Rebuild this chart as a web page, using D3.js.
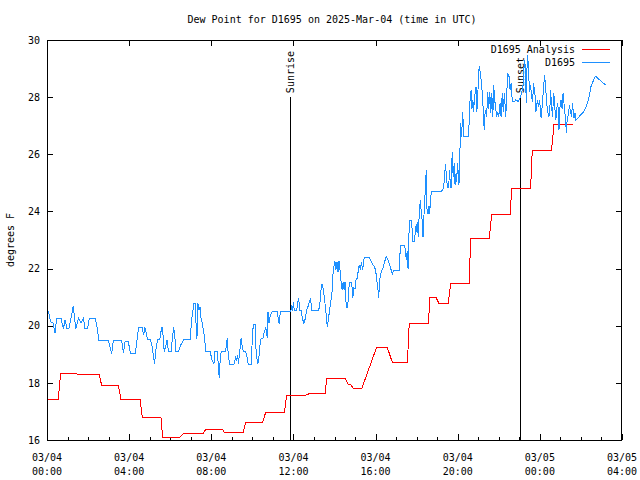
<!DOCTYPE html>
<html><head><meta charset="utf-8">
<script src="https://cdn.jsdelivr.net/npm/d3@7"></script>
<style>
body{margin:0;background:#fff}
text{font-family:"DejaVu Sans Mono",monospace;font-size:10px;fill:#000}
</style>
</head><body><svg id="c" width="640" height="480"></svg>
<script>
const title = "Dew Point for D1695 on 2025-Mar-04 (time in UTC)";
const yLabel = "degrees F";
const seriesNames = ["D1695 Analysis", "D1695"];
const seriesColors = ["#ff0000", "#1e90ff"];
const yTicks = [16, 18, 20, 22, 24, 26, 28, 30];
const xMajorHours = [0, 4, 8, 12, 16, 20, 24, 28];
const sunriseHour = 11.83, sunsetHour = 23.03;
const markerTop = 28;

// [hours since 2025-03-04 00:00 UTC, degrees F]
const analysis = [[0.06,17.43],[0.55,17.43],[0.66,18.33],[1.41,18.33],[1.57,18.28],[2.55,18.28],[2.66,17.91],[3.47,17.91],[3.6,17.43],[4.53,17.43],[4.64,16.8],[5.55,16.8],[5.63,16.1],[6.48,16.1],[6.64,16.23],[7.61,16.23],[7.73,16.37],[8.55,16.37],[8.63,16.27],[9.56,16.27],[9.67,16.62],[10.5,16.62],[10.65,16.97],[11.56,16.97],[11.67,17.56],[12.56,17.56],[12.81,17.63],[13.54,17.63],[13.62,18.16],[14.51,18.16],[14.67,17.93],[14.8,17.93],[14.92,17.79],[15.32,17.79],[16.05,19.24],[16.57,19.24],[16.82,18.71],[17.55,18.71],[17.64,20.08],[18.57,20.08],[18.65,20.99],[18.94,20.99],[19.09,20.78],[19.54,20.78],[19.66,21.48],[20.56,21.48],[20.63,23.06],[21.54,23.06],[21.65,23.88],[22.55,23.88],[22.63,24.81],[23.55,24.81],[23.63,26.15],[24.57,26.15],[24.69,27.05],[25.63,27.05]];

const observed = [[0.06,20.53],[0.18,20.14],[0.29,20.1],[0.39,19.73],[0.47,20.26],[0.68,20.26],[0.8,19.9],[0.88,20.2],[0.97,19.9],[1.07,19.9],[1.17,20.26],[1.28,20.69],[1.4,19.9],[1.53,20.26],[1.66,20.1],[1.77,20.26],[1.85,19.9],[1.98,19.9],[2.06,20.26],[2.34,20.26],[2.42,20.03],[2.53,19.48],[2.99,19.48],[3.15,19.03],[3.23,19.48],[3.64,19.48],[3.72,19.03],[3.8,19.45],[3.96,19.45],
[4.06,19.03],[4.3,19.03],[4.38,19.47],[4.46,19.94],[4.63,19.94],[4.71,19.68],[4.76,19.94],[4.84,19.72],[4.9,19.52],[5.03,19.52],[5.11,19.32],[5.2,18.86],[5.23,18.65],[5.27,18.92],[5.32,19.27],[5.39,19.52],[5.49,19.52],[5.55,19.79],[5.6,19.94],[5.65,19.68],[5.71,19.09],[5.76,19.2],[5.84,19.5],[5.92,19.09],[6.04,19.09],[6.1,19.5],[6.17,19.94],[6.22,19.68],[6.28,19.09],[6.41,19.09],[6.49,19.3],[6.57,19.4],[6.66,19.52],[6.98,19.52],[7.03,20.14],[7.11,20.55],[7.14,20.78],[7.22,20.78],[7.27,19.85],[7.3,19.52],[7.35,20.78],[7.4,20.55],[7.46,20.66],[7.5,20.26],[7.56,20.1],[7.63,19.79],[7.68,19.5],[7.73,19.09],[7.87,19.09],[7.95,19.09],
[8.03,18.8],[8.13,18.66],[8.18,19.11],[8.3,19.11],[8.34,18.62],[8.39,18.16],[8.44,18.9],[8.49,19.11],[8.7,19.11],[8.78,19.56],[8.83,18.9],[8.9,18.66],[9.11,18.66],[9.19,18.9],[9.24,18.8],[9.29,18.97],[9.32,18.66],[9.39,19.11],[9.45,19.56],[9.5,19.32],[9.56,19.11],[9.67,19.11],[9.75,18.87],[9.8,18.66],[9.95,18.66],[10.0,19.62],[10.05,20.06],[10.13,20.06],[10.19,18.97],[10.27,18.66],[10.32,18.9],[10.37,19.32],[10.43,19.56],[10.52,19.56],[10.57,19.74],[10.65,19.94],[10.73,19.56],[10.76,20.49],[10.81,20.08],[10.88,20.37],[10.97,20.49],[11.21,20.49],[11.26,20.26],[11.31,20.06],[11.36,20.49],[11.87,20.49],
[11.92,20.72],[11.96,20.53],[12.0,20.84],[12.04,20.53],[12.16,20.53],[12.21,20.84],[12.26,20.96],[12.3,20.53],[12.37,20.53],[12.42,20.34],[12.47,20.17],[12.5,20.06],[12.57,20.23],[12.64,20.53],[12.71,20.67],[12.77,20.84],[12.82,20.93],[12.87,20.72],[12.89,20.53],[13.23,20.53],[13.3,20.84],[13.34,21.25],[13.39,21.46],[13.46,21.25],[13.51,20.96],[13.58,20.5],[13.62,20.2],[13.65,19.94],[13.7,20.2],[13.77,20.6],[13.83,20.9],[13.88,21.19],[13.93,21.83],[13.98,22.13],[14.02,22.27],[14.07,21.95],[14.12,22.24],[14.17,21.89],[14.22,22.27],[14.27,21.95],[14.32,21.54],[14.37,21.25],[14.42,21.54],[14.47,21.25],[14.51,21.54],[14.56,20.84],[14.61,20.61],[14.66,20.84],[14.72,21.5],[14.84,21.5],[14.89,20.96],[14.94,21.31],[15.0,21.28],[15.06,21.66],[15.11,21.66],[15.16,21.95],[15.21,22.13],[15.26,21.95],[15.31,22.24],[15.37,21.95],[15.42,22.24],[15.45,22.39],[15.7,22.39],[15.78,22.27],[15.86,22.15],[15.94,22.07],
[16.0,21.95],[16.04,21.72],[16.12,21.25],[16.15,20.96],[16.2,21.6],[16.28,21.89],[16.36,22.0],[16.44,22.24],[16.52,22.42],[16.6,22.3],[16.68,22.13],[16.76,21.95],[16.81,21.81],[16.88,21.95],[17.17,21.95],[17.2,22.8],[17.42,22.8],[17.47,22.5],[17.5,22.3],[17.54,22.6],[17.58,22.0],[17.63,23.29],[17.66,23.68],[17.74,23.68],[17.79,23.29],[17.82,22.94],[17.9,22.94],[17.95,23.49],[17.98,23.29],[18.03,23.64],[18.08,23.09],[18.13,23.99],[18.18,24.4],[18.23,23.9],[18.28,23.64],[18.31,23.1],[18.34,23.64],[18.39,24.3],[18.44,25.04],[18.47,25.45],[18.5,24.1],[18.55,23.9],[18.6,24.2],[18.63,23.9],[18.71,24.69],[19.2,24.69],[19.28,24.78],[19.33,24.98],[19.38,25.45],[19.41,25.66],[19.46,25.07],[19.51,24.83],[19.56,24.83],[19.6,25.45],[19.65,24.83],[19.69,24.83],[19.73,26.09],[19.78,25.2],[19.83,25.7],[19.87,24.93],[19.92,25.33],[19.95,25.04],[19.99,25.68],
[20.03,25.3],[20.06,24.93],[20.11,26.15],[20.14,27.08],[20.19,26.62],[20.24,27.49],[20.3,26.62],[20.52,26.62],[20.55,27.02],[20.6,27.9],[20.65,28.25],[20.69,27.6],[20.74,27.9],[20.77,27.49],[20.82,28.0],[20.89,28.37],[20.93,27.49],[20.98,27.9],[21.0,28.72],[21.05,29.07],[21.1,28.84],[21.16,28.48],[21.21,27.97],[21.26,27.32],[21.29,26.85],[21.34,27.55],[21.41,27.32],[21.46,28.19],[21.51,27.6],[21.56,28.19],[21.61,27.43],[21.66,28.13],[21.71,27.32],[21.75,28.42],[21.82,27.78],[21.9,27.32],[21.95,27.49],[22.0,27.32],[22.06,27.78],[22.11,27.32],[22.17,28.13],[22.22,27.49],[22.27,28.13],[22.34,27.32],[22.39,28.13],[22.43,28.83],[22.5,28.72],[22.55,28.25],[22.6,28.48],[22.66,27.85],[22.76,27.85],[22.82,27.9],[22.95,27.85],[23.03,27.95],[23.11,28.13],[23.19,28.48],[23.22,28.95],[23.26,29.3],[23.29,29.07],[23.34,27.78],[23.37,28.95],[23.41,29.47],[23.46,28.72],[23.5,28.19],[23.55,28.42],[23.6,28.0],[23.65,27.85],[23.69,28.48],[23.76,28.13],[23.81,27.49],[23.88,27.9],
[23.94,27.66],[23.99,27.9],[24.06,27.26],[24.11,27.66],[24.16,28.13],[24.2,28.48],[24.22,28.77],[24.27,28.48],[24.32,27.9],[24.38,27.49],[24.44,27.32],[24.49,27.55],[24.51,28.25],[24.56,27.9],[24.61,27.32],[24.64,27.66],[24.68,28.13],[24.73,27.6],[24.78,27.2],[24.85,27.78],[24.9,27.6],[24.93,26.85],[24.98,27.66],[25.03,27.9],[25.08,27.6],[25.13,28.13],[25.2,27.6],[25.26,27.14],[25.29,26.73],[25.34,27.32],[25.39,27.37],[25.44,27.72],[25.49,27.49],[25.54,27.32],[25.59,27.78],[25.66,27.26],[25.71,27.45],[25.73,27.18],[25.98,27.37],[26.14,27.49],[26.26,27.66],[26.38,27.96],[26.49,28.37],[26.7,28.74],[26.95,28.58],[27.11,28.48],[27.24,28.42]];

const base = Date.UTC(2025, 2, 4);
const toDate = h => new Date(base + h * 3600e3);

const svg = d3.select("#c");
const x = d3.scaleUtc().domain([toDate(0), toDate(28)]).range([47, 622]);
const y = d3.scaleLinear().domain([16, 30]).range([440, 40]);

const majorDates = xMajorHours.map(toDate);
const minorDates = d3.range(0, 29).map(toDate);

// ticks (inward, gnuplot style)
function clean(g){ g.select(".domain").remove(); g.selectAll("line").attr("stroke","#000").attr("shape-rendering","crispEdges"); }
svg.append("g").attr("transform","translate(0,440)")
  .call(d3.axisBottom(x).tickValues(minorDates).tickSize(-3).tickFormat(""))
  .call(clean);
svg.append("g").attr("transform","translate(0,440)")
  .call(d3.axisBottom(x).tickValues(majorDates).tickSize(-6).tickFormat(""))
  .call(clean);
svg.append("g").attr("transform","translate(0,40)")
  .call(d3.axisTop(x).tickValues(majorDates).tickSize(-6).tickFormat(""))
  .call(clean);
svg.append("g").attr("transform","translate(47,0)")
  .call(d3.axisLeft(y).tickValues(yTicks).tickSize(-6).tickPadding(7).tickFormat(d3.format("d")))
  .call(clean)
  .call(g => g.selectAll("text").attr("font-family",null).attr("font-size",null).attr("fill","#000"));
svg.append("g").attr("transform","translate(622,0)")
  .call(d3.axisRight(y).tickValues(yTicks).tickSize(-6).tickFormat(""))
  .call(clean);

// x labels (two lines)
const fmtD = d3.utcFormat("%m/%d"), fmtT = d3.utcFormat("%H:%M");
const xl = svg.append("g").selectAll("g").data(majorDates).join("g")
  .attr("transform", d => `translate(${x(d)},0)`);
xl.append("text").attr("y", 461).attr("text-anchor","middle").text(d => fmtD(d));
xl.append("text").attr("y", 475).attr("text-anchor","middle").text(d => fmtT(d));

// frame
svg.append("rect").attr("x",47.5).attr("y",40.5).attr("width",574).attr("height",399.5)
  .attr("fill","none").attr("stroke","#000").attr("shape-rendering","crispEdges");

// sunrise / sunset
[[sunriseHour,"Sunrise"],[sunsetHour,"Sunset"]].forEach(([h,lab]) => {
  const xx = Math.round(x(toDate(h))) + 0.5;
  svg.append("line").attr("x1",xx).attr("x2",xx).attr("y1",y(16)).attr("y2",y(markerTop))
    .attr("stroke","#000").attr("shape-rendering","crispEdges");
  svg.append("text").attr("transform",`translate(${xx},${y(markerTop)-4}) rotate(-90)`)
    .attr("dy","0.35em").attr("text-anchor","start").text(lab);
});

// lines
const line = d3.line().x(d => x(toDate(d[0]))).y(d => y(d[1]));
svg.append("path").datum(analysis).attr("d", line).attr("fill","none")
  .attr("stroke", seriesColors[0]).attr("stroke-width",1).attr("shape-rendering","crispEdges");
svg.append("path").datum(observed).attr("d", line).attr("fill","none")
  .attr("stroke", seriesColors[1]).attr("stroke-width",1).attr("shape-rendering","crispEdges");

// title & y label
svg.append("text").attr("x",332).attr("y",23).attr("text-anchor","middle").text(title);
svg.append("text").attr("transform","translate(10,240) rotate(-90)").attr("dy","0.35em")
  .attr("text-anchor","middle").text(yLabel);

// legend
const lg = svg.append("g").selectAll("g").data(seriesNames).join("g")
  .attr("transform",(d,i) => `translate(0,${49.5 + i*13})`);
lg.append("text").attr("x",575).attr("dy","0.35em").attr("text-anchor","end").text(d => d);
lg.append("line").attr("x1",582).attr("x2",610).attr("y1",0).attr("y2",0)
  .attr("stroke",(d,i) => seriesColors[i]).attr("shape-rendering","crispEdges");
</script></body></html>
